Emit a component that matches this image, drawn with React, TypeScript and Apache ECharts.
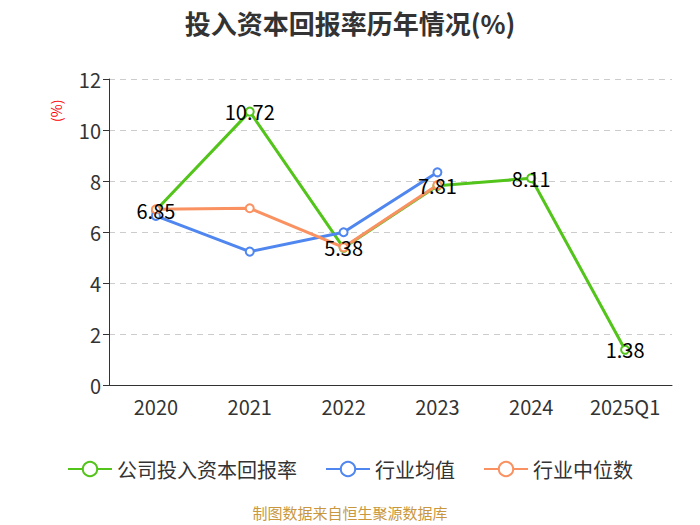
import React, { useEffect, useRef } from "react";
import * as echarts from "echarts";

const categories = ["2020", "2021", "2022", "2023", "2024", "2025Q1"];
const companyValues = [6.85, 10.72, 5.38, 7.81, 8.11, 1.38];
const industryAvg = [6.63, 5.23, 5.99, 8.34, null, null];
const industryMedian = [6.89, 6.93, 5.4, 7.84, null, null];

export default function App() {
  const ref = useRef<HTMLDivElement>(null);
  useEffect(() => {
    if (!ref.current) return;
    const chart = echarts.init(ref.current, null, { renderer: "svg" });
    const font = "'Noto Sans CJK SC', 'Noto Sans', sans-serif";
    chart.setOption({
      animation: false,
      textStyle: { fontFamily: font },
      title: {
        text: "投入资本回报率历年情况(%)",
        left: "center",
        top: 4,
        textStyle: { fontSize: 26, fontWeight: "bold", color: "#333", fontFamily: font },
      },
      grid: { left: 109, right: 28, top: 79, bottom: 140 },
      legend: {
        top: 454,
        left: "center",
        itemWidth: 44,
        itemHeight: 18,
        itemGap: 28,
        textStyle: { fontSize: 20, color: "#333", fontFamily: font },
        data: ["公司投入资本回报率", "行业均值", "行业中位数"],
      },
      graphic: [
        {
          type: "text",
          x: 49,
          y: 122,
          rotation: Math.PI / 2,
          style: { text: "(%)", fill: "#ff0000", fontSize: 14, fontFamily: font },
        },
        {
          type: "text",
          left: "center",
          top: 505,
          style: { text: "制图数据来自恒生聚源数据库", fill: "#c9983e", fontSize: 15, fontFamily: font },
        },
      ],
      xAxis: {
        type: "category",
        data: categories,
        axisLine: { lineStyle: { color: "#333" } },
        axisTick: { length: 6, lineStyle: { color: "#333" } },
        axisLabel: { fontSize: 20, color: "#333", margin: 11 },
      },
      yAxis: {
        type: "value",
        min: 0,
        max: 12,
        interval: 2,
        axisLine: { show: true, lineStyle: { color: "#333" } },
        axisTick: { show: true, length: 6, lineStyle: { color: "#333" } },
        axisLabel: { fontSize: 20, color: "#333", margin: 8 },
        splitLine: { lineStyle: { type: [6, 5], color: "#ccc" } },
      },
      series: [
        {
          name: "公司投入资本回报率",
          type: "line",
          data: companyValues,
          symbol: "emptyCircle",
          symbolSize: 8,
          lineStyle: { width: 3, color: "#52c41a" },
          itemStyle: { color: "#52c41a" },
          label: { show: true, position: "inside", fontSize: 20, color: "#000" },
        },
        {
          name: "行业均值",
          type: "line",
          data: industryAvg,
          symbol: "emptyCircle",
          symbolSize: 8,
          lineStyle: { width: 3, color: "#4f86ef" },
          itemStyle: { color: "#4f86ef" },
        },
        {
          name: "行业中位数",
          type: "line",
          data: industryMedian,
          symbol: "emptyCircle",
          symbolSize: 8,
          lineStyle: { width: 3, color: "#fa9160" },
          itemStyle: { color: "#fa9160" },
        },
      ],
    });
    return () => chart.dispose();
  }, []);
  return (
    <div
      ref={ref}
      style={{ position: "absolute", left: 0, top: 0, width: 700, height: 525 }}
    />
  );
}
